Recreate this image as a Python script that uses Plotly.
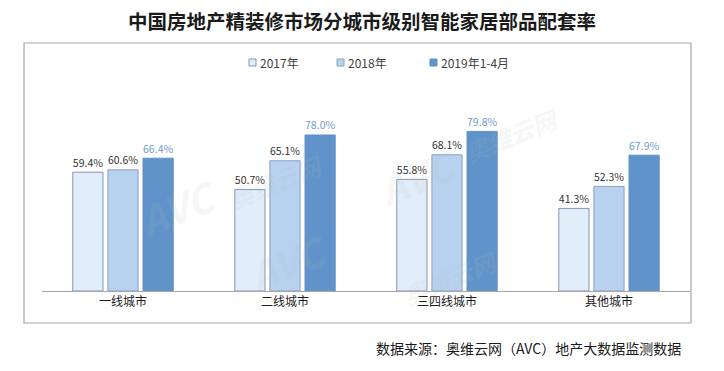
import plotly.graph_objects as go

categories = ["一线城市", "二线城市", "三四线城市", "其他城市"]
series_names = ["2017年", "2018年", "2019年1-4月"]
v2017 = [59.4, 50.7, 55.8, 41.3]
v2018 = [60.6, 65.1, 68.1, 52.3]
v2019 = [66.4, 78.0, 79.8, 67.9]

fills = ["#e1edf9", "#b7d1ef", "#5f93c9"]
borders = ["#8496b4", "#8a9fc0", "#5f93c9"]
label_colors = ["#333333", "#333333", "#6f9bcc"]

font_cjk = "Noto Sans CJK SC"

# plot area geometry (pixels)
L, R, T, B = 42, 34, 91, 80
PW, PH = 724 - L - R, 371 - T - B


def px(x):
    return (x - L) / PW


def py(y):
    return (371 - B - y) / PH


fig = go.Figure()
for name, vals, fc, bc, lc in zip(series_names, [v2017, v2018, v2019], fills, borders, label_colors):
    fig.add_trace(go.Bar(
        name=name, x=categories, y=vals,
        marker=dict(color=fc, line=dict(color=bc, width=1)),
        text=[f"{v:.1f}%" for v in vals], textposition="outside",
        textfont=dict(color=lc, size=12, family=font_cjk),
        cliponaxis=False, showlegend=False,
    ))

# legend (small squares next to the labels)
leg_x = [249, 337, 430]
for name, fc, bc, x in zip(series_names, fills, borders, leg_x):
    fig.add_shape(type="rect", xref="paper", yref="paper",
                  x0=px(x), x1=px(x + 7), y0=py(66), y1=py(59),
                  line=dict(color=bc, width=1), fillcolor=fc)
    fig.add_annotation(xref="paper", yref="paper", x=px(x + 9), y=py(62.5),
                       xanchor="left", yanchor="middle", showarrow=False, text=name,
                       font=dict(size=12, color="#404040", family=font_cjk))

# faint watermarks
wm = [
    (0.13, 0.42, "AVC", 40), (0.36, 0.55, "奥维云网", 24),
    (0.58, 0.80, "AVC", 40), (0.81, 0.97, "奥维云网", 24),
    (0.30, -0.08, "AVC", 40), (0.63, -0.12, "奥维云网", 24),
]
for x, y, t, s in wm:
    fig.add_annotation(xref="paper", yref="paper", x=x, y=y, text=f"<b><i>{t}</i></b>",
                       showarrow=False, textangle=-22,
                       font=dict(size=s, color="rgba(190,190,190,0.14)", family=font_cjk))

fig.update_layout(
    width=724, height=371,
    margin=dict(l=L, r=R, t=T, b=B, autoexpand=False),
    paper_bgcolor="white", plot_bgcolor="white",
    barmode="group", bargap=0.35, bargroupgap=0.14,
    font=dict(family=font_cjk, color="#333333"),
    title=dict(text="<b>中国房地产精装修市场分城市级别智能家居部品配套率</b>",
               x=0.5, xanchor="center", y=1 - 22 / 371, yanchor="middle",
               font=dict(size=19.5, color="#1a1a1a", family=font_cjk)),
    xaxis=dict(showline=True, linecolor="#a6a6a6", linewidth=1, ticks="",
               tickfont=dict(size=12, color="#1a1a1a"), showgrid=False, fixedrange=True),
    yaxis=dict(range=[0, 100], visible=False, showgrid=False, fixedrange=True),
    showlegend=False,
)

# outer frame
fig.add_shape(type="rect", xref="paper", yref="paper",
              x0=px(24), x1=px(691), y0=py(323), y1=py(43),
              line=dict(color="#a6a6a6", width=1.2), fillcolor="rgba(0,0,0,0)", layer="below")

fig.add_annotation(xref="paper", yref="paper", x=px(683), y=py(348),
                   xanchor="right", yanchor="middle", showarrow=False,
                   text="数据来源：奥维云网（AVC）地产大数据监测数据",
                   font=dict(size=14, color="#1a1a1a", family=font_cjk))

fig.write_html("out.html", config={"displayModeBar": False},
               post_script="document.body.style.margin='0';")
